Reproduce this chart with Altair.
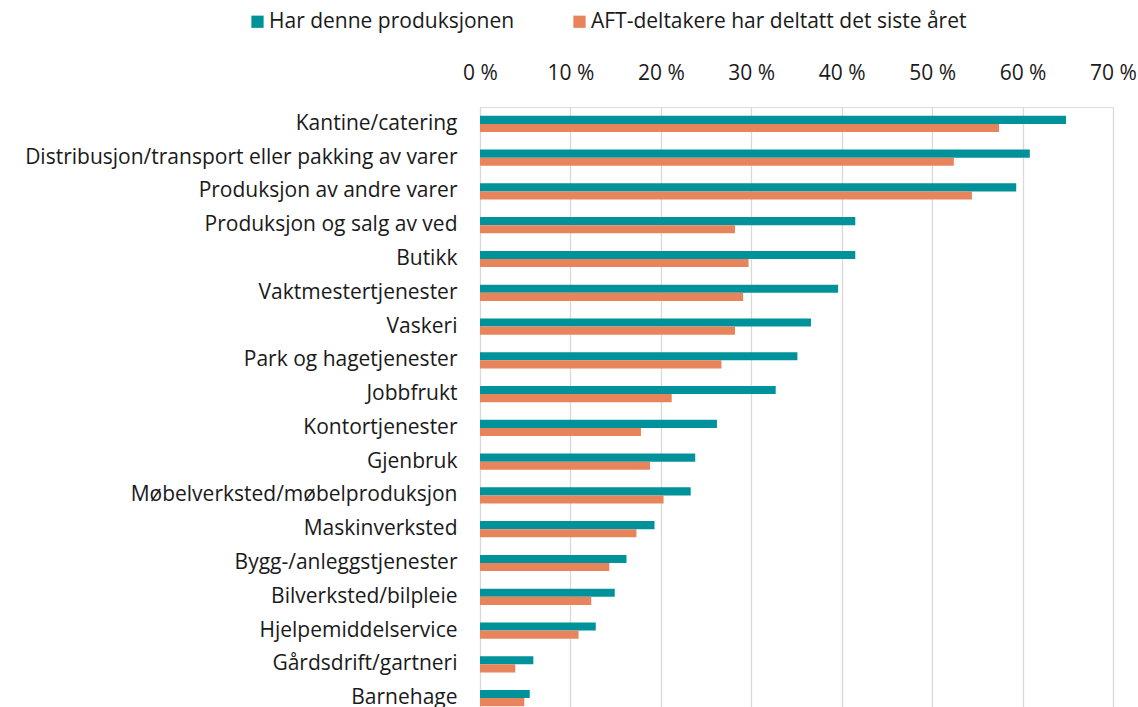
import altair as alt
import pandas as pd

categories = [
    "Kantine/catering",
    "Distribusjon/transport eller pakking av varer",
    "Produksjon av andre varer",
    "Produksjon og salg av ved",
    "Butikk",
    "Vaktmestertjenester",
    "Vaskeri",
    "Park og hagetjenester",
    "Jobbfrukt",
    "Kontortjenester",
    "Gjenbruk",
    "Møbelverksted/møbelproduksjon",
    "Maskinverksted",
    "Bygg-/anleggstjenester",
    "Bilverksted/bilpleie",
    "Hjelpemiddelservice",
    "Gårdsdrift/gartneri",
    "Barnehage",
]
series = ["Har denne produksjonen", "AFT-deltakere har deltatt det siste året"]
har = [64.8, 60.8, 59.3, 41.5, 41.5, 39.6, 36.6, 35.1, 32.7, 26.2, 23.8, 23.3, 19.3, 16.2, 14.9, 12.8, 5.9, 5.5]
deltatt = [57.4, 52.4, 54.4, 28.2, 29.7, 29.1, 28.2, 26.7, 21.2, 17.8, 18.8, 20.3, 17.3, 14.3, 12.3, 10.9, 3.9, 4.9]
colors = ["#00929A", "#E8845C"]

rows = []
for c, a, b in zip(categories, har, deltatt):
    rows.append({"Kategori": c, "Serie": series[0], "Verdi": a / 100})
    rows.append({"Kategori": c, "Serie": series[1], "Verdi": b / 100})
df = pd.DataFrame(rows)

FONT = "Open Sans"
FS = 21

chart = (
    alt.Chart(df)
    .mark_bar()
    .encode(
        y=alt.Y(
            "Kategori:N",
            sort=categories,
            scale=alt.Scale(paddingInner=0.52, paddingOuter=0.26),
            axis=alt.Axis(
                title=None, ticks=False, domain=False, labelPadding=23,
                labelFontSize=FS, labelFont=FONT, labelColor="#1a1a1a", labelLimit=700,
            ),
        ),
        yOffset=alt.YOffset("Serie:N", sort=series),
        x=alt.X(
            "Verdi:Q",
            scale=alt.Scale(domain=[0, 0.7], nice=False),
            axis=alt.Axis(
                orient="top", format=".0%", values=[0, 0.1, 0.2, 0.3, 0.4, 0.5, 0.6, 0.7],
                title=None, ticks=False, domain=False, labelPadding=24, labelFlush=False,
                labelFontSize=FS, labelFont=FONT, labelColor="#1a1a1a",
                labelExpr="replace(datum.label, '%', ' %')",
                grid=True, gridColor="#D9D9D9", gridWidth=1.3,
            ),
        ),
        color=alt.Color(
            "Serie:N",
            sort=series,
            scale=alt.Scale(domain=series, range=colors),
            legend=alt.Legend(
                title=None, orient="none", direction="horizontal",
                legendX=-233, legendY=-96, symbolType="square", symbolSize=150,
                symbolStrokeWidth=0, labelFontSize=FS, labelFont=FONT, labelColor="#1a1a1a",
                columnPadding=54, padding=0, labelOffset=1, labelLimit=700,
            ),
        ),
    )
    .properties(
        width=633,
        height=608,
        autosize=alt.AutoSizeParams(type="none"),
        padding={"left": 480, "top": 107, "right": 25, "bottom": 0},
    )
    .configure_view(stroke=None)
    .configure(background="white")
)

chart.save("out.html", embed_options={"renderer": "svg", "actions": False})
